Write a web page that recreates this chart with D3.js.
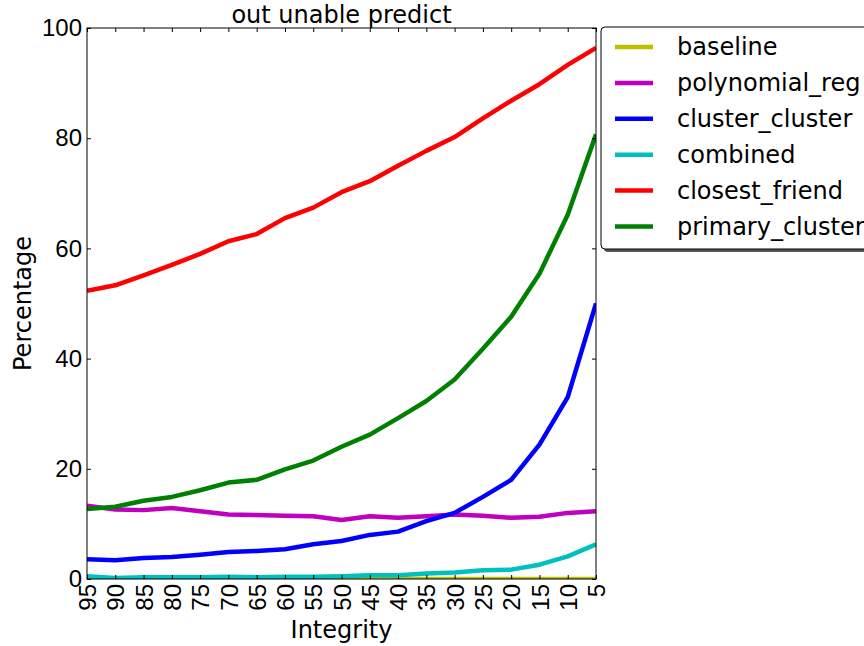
<!DOCTYPE html>
<html><head><meta charset="utf-8">
<script src="https://cdn.jsdelivr.net/npm/d3@7"></script>
<style>body{margin:0;background:#fff;}svg{display:block;font-family:"DejaVu Sans",sans-serif;}</style>
</head><body>
<script>
const categories = [95,90,85,80,75,70,65,60,55,50,45,40,35,30,25,20,15,10,5];
const baseline = [0,0,0,0,0,0,0,0,0,0,0,0,0,0,0,0,0,0,0];
const polynomial_reg = [13.3,12.6,12.5,12.9,12.3,11.7,11.6,11.5,11.4,10.7,11.4,11.1,11.4,11.7,11.5,11.1,11.3,12.0,12.3];
const cluster_cluster = [3.6,3.4,3.8,4.0,4.4,4.9,5.1,5.4,6.3,6.9,8.0,8.6,10.5,12.0,14.9,18.0,24.4,33.0,50.0];
const combined = [0.5,0.2,0.3,0.3,0.3,0.4,0.3,0.4,0.4,0.5,0.7,0.7,1.0,1.2,1.6,1.7,2.6,4.1,6.3];
const closest_friend = [52.3,53.3,55.1,57.0,59.0,61.3,62.6,65.5,67.4,70.2,72.2,75.0,77.7,80.2,83.6,86.8,89.8,93.3,96.4];
const primary_cluster = [12.7,13.1,14.2,14.9,16.1,17.5,18.0,19.9,21.5,24.0,26.2,29.2,32.3,36.2,41.8,47.6,55.4,66.1,80.7];
const yTicks = [0,20,40,60,80,100];
const seriesNames = ["baseline","polynomial_reg","cluster_cluster","combined","closest_friend","primary_cluster"];
const seriesColors = ["#bfbf00","#bf00bf","#0000ff","#00bfbf","#ff0000","#008000"];
const seriesValues = [baseline,polynomial_reg,cluster_cluster,combined,closest_friend,primary_cluster];

const W=864,H=646;
const L=87,R=596,T=28,B=579;
const FS=24;
const svg=d3.select("body").append("svg").attr("width",W).attr("height",H);
const x=d3.scalePoint().domain(categories).range([L,R]);
const y=d3.scaleLinear().domain([0,100]).range([B,T]);

svg.append("defs").append("clipPath").attr("id","clip").append("rect")
  .attr("x",L).attr("y",T).attr("width",R-L).attr("height",B-T);

const line=d3.line().x((d,i)=>x(categories[i])).y(d=>y(d));
const g=svg.append("g").attr("clip-path","url(#clip)");
seriesValues.forEach((vals,k)=>{
  g.append("path").datum(vals).attr("d",line).attr("fill","none")
   .attr("stroke",seriesColors[k]).attr("stroke-width",4.5).attr("stroke-linejoin","round");
});

// frame
svg.append("rect").attr("x",L).attr("y",T).attr("width",R-L).attr("height",B-T)
  .attr("fill","none").attr("stroke","#000").attr("stroke-width",1);

// axes
const tl=4;
const xb=svg.append("g").attr("transform",`translate(0,${B})`)
  .call(d3.axisBottom(x).tickSizeInner(-tl).tickSizeOuter(0).tickPadding(8));
xb.select(".domain").remove();
xb.selectAll("text").attr("font-size",FS).attr("fill","#000")
  .attr("transform","rotate(-90)").attr("text-anchor","end")
  .attr("x",-5).attr("y",0).attr("dy","0.36em");
const xt=svg.append("g").attr("transform",`translate(0,${T})`)
  .call(d3.axisTop(x).tickSizeInner(-tl).tickSizeOuter(0).tickFormat(""));
xt.select(".domain").remove();
const yl=svg.append("g").attr("transform",`translate(${L},0)`)
  .call(d3.axisLeft(y).tickValues(yTicks).tickSizeInner(-tl).tickSizeOuter(0).tickPadding(5));
yl.select(".domain").remove();
yl.selectAll("text").attr("font-size",FS).attr("fill","#000");
const yr=svg.append("g").attr("transform",`translate(${R},0)`)
  .call(d3.axisRight(y).tickValues(yTicks).tickSizeInner(-tl).tickSizeOuter(0).tickFormat(""));
yr.select(".domain").remove();
svg.selectAll(".tick line").attr("stroke","#000");

// labels
svg.append("text").attr("x",(L+R)/2).attr("y",23).attr("text-anchor","middle")
  .attr("font-size",FS).text("out unable predict");
svg.append("text").attr("x",(L+R)/2).attr("y",638).attr("text-anchor","middle")
  .attr("font-size",FS).text("Integrity");
svg.append("text").attr("transform",`translate(31,${(T+B)/2}) rotate(-90)`)
  .attr("text-anchor","middle").attr("font-size",FS).text("Percentage");

// legend
const lg=svg.append("g");
lg.append("rect").attr("x",604).attr("y",30).attr("width",290).attr("height",222).attr("rx",4)
  .attr("fill","#555");
lg.append("rect").attr("x",601).attr("y",27).attr("width",290).attr("height",222).attr("rx",4)
  .attr("fill","#fff").attr("stroke","#000").attr("stroke-width",1);
seriesNames.forEach((n,k)=>{
  const yy=47+k*35.9;
  lg.append("line").attr("x1",615).attr("x2",653).attr("y1",yy).attr("y2",yy)
    .attr("stroke",seriesColors[k]).attr("stroke-width",4.5);
  lg.append("text").attr("x",677).attr("y",yy).attr("dy","0.35em").attr("font-size",FS).text(n);
});
</script>
</body></html>
